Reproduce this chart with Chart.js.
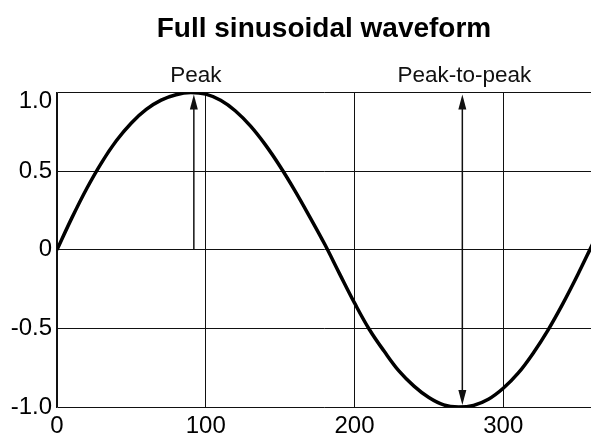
<!DOCTYPE html>
<html lang="en">
<head>
  <meta charset="UTF-8">
  <title>Full sinusoidal waveform</title>
  <script src="https://cdn.jsdelivr.net/npm/chart.js"></script>
  <style>
    body { margin: 0; background: #fff; }
    #wrap { width: 591px; height: 440px; }
  </style>
</head>
<body>
<div id="wrap"><canvas id="wave" width="591" height="440"></canvas></div>
<script>
// curve, every 10 units
const xValues = [0, 10, 20, 30, 40, 50, 60, 70, 80, 90, 100, 110, 120, 130, 140, 150, 160, 170, 180,
  190, 200, 210, 220, 230, 240, 250, 260, 270, 280, 290, 300, 310, 320, 330, 340, 350, 360];
const yValues = [0, 0.203, 0.39, 0.555, 0.695, 0.807, 0.893, 0.952, 0.986, 1.0, 0.99, 0.951, 0.883, 0.788, 0.669, 0.53, 0.375, 0.208, 0.035,
  -0.153, -0.338, -0.507, -0.646, -0.772, -0.867, -0.94, -0.987, -1.0, -0.99, -0.951, -0.881, -0.785, -0.659, -0.512, -0.344, -0.16, 0.035];

const xTicks = [0, 100, 200, 300];
const yTicks = [-1, -0.5, 0, 0.5, 1];
const yTickLabels = ['-1.0', '-0.5', '0', '0.5', ['', '1.0']];

// annotation arrows
const arrowLabels = ['Peak', 'Peak-to-peak'];
const arrowX = [92, 272.5];
const arrowFrom = [0, -1];
const arrowTo = [1, 1];
const arrowBothEnds = [false, true];

const points = xValues.map((x, i) => ({ x: x, y: yValues[i] }));
const FONT = '"Liberation Sans", Arial, sans-serif';

function head(ctx, x, y, dir) {
  // dir -1 = pointing up, 1 = pointing down
  ctx.beginPath();
  ctx.moveTo(x, y);
  ctx.lineTo(x - 4, y - dir * 15);
  ctx.lineTo(x + 4, y - dir * 15);
  ctx.closePath();
  ctx.fill();
}

const arrowPlugin = {
  id: 'arrows',
  afterDatasetsDraw(chart) {
    const ctx = chart.ctx;
    const xs = chart.scales.x, ys = chart.scales.y;
    ctx.save();
    ctx.strokeStyle = '#111';
    ctx.fillStyle = '#111';
    ctx.lineWidth = 1.5;
    arrowX.forEach((ax, i) => {
      const px = xs.getPixelForValue(ax);
      const y0 = ys.getPixelForValue(arrowFrom[i]);
      const y1 = ys.getPixelForValue(arrowTo[i]) + 2;
      const yb = arrowBothEnds[i] ? y0 - 2 : y0;
      ctx.beginPath();
      ctx.moveTo(px, arrowBothEnds[i] ? yb - 12 : yb);
      ctx.lineTo(px, y1 + 12);
      ctx.stroke();
      head(ctx, px, y1, -1);
      if (arrowBothEnds[i]) head(ctx, px, yb, 1);
      ctx.font = '22.5px ' + FONT;
      ctx.textAlign = 'center';
      ctx.textBaseline = 'alphabetic';
      ctx.fillText(arrowLabels[i], px + 2, chart.chartArea.top - 11);
    });
    ctx.restore();
  }
};

new Chart(document.getElementById('wave'), {
  type: 'line',
  data: {
    datasets: [{
      data: points,
      borderColor: '#000',
      borderWidth: 3.5,
      pointRadius: 0,
      fill: false,
      tension: 0.4
    }]
  },
  options: {
    responsive: false,
    animation: false,
    layout: { padding: { left: 0, right: 0, top: 0, bottom: 0 } },
    plugins: {
      legend: { display: false },
      tooltip: { enabled: false },
      title: {
        display: true,
        text: 'Full sinusoidal waveform',
        color: '#000',
        fullSize: false,
        font: { family: FONT, size: 28, weight: 'bold' },
        padding: { top: 12, bottom: 47 }
      }
    },
    scales: {
      x: {
        type: 'linear',
        min: 0,
        max: 359,
        afterBuildTicks: s => { s.ticks = xTicks.map(v => ({ value: v })); },
        afterFit: s => { s.height = 33; },
        grid: { color: '#111', lineWidth: 1, drawTicks: false },
        border: { display: false },
        ticks: {
          color: '#000',
          padding: 5,
          maxRotation: 0,
          font: { family: FONT, size: 24 }
        }
      },
      y: {
        min: -1,
        max: 1,
        afterBuildTicks: s => { s.ticks = yTicks.map(v => ({ value: v })); },
        afterFit: s => { s.width = 57; },
        grid: { color: '#111', lineWidth: 1, drawTicks: false },
        border: { color: '#111', width: 1.5 },
        ticks: {
          color: '#000',
          padding: 5,
          font: { family: FONT, size: 24, lineHeight: 0.75 },
          callback: v => yTickLabels[yTicks.indexOf(v)]
        }
      }
    }
  },
  plugins: [arrowPlugin]
});
</script>
</body>
</html>
